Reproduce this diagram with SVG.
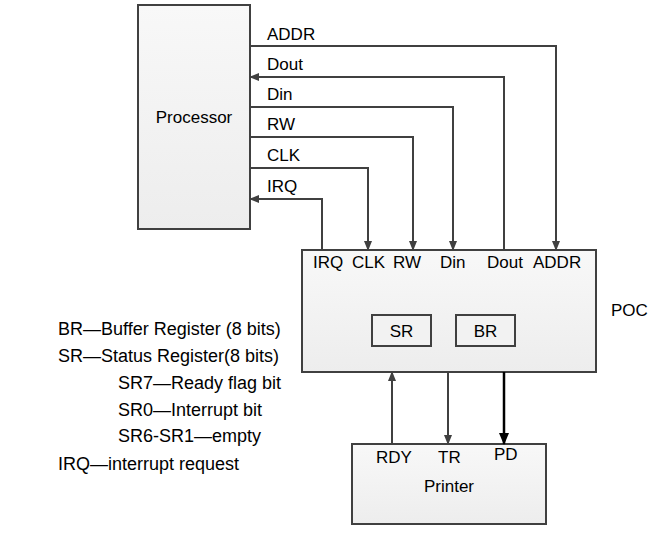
<svg xmlns="http://www.w3.org/2000/svg" width="654" height="534" viewBox="0 0 654 534">
<defs>
<linearGradient id="g" x1="0" y1="0" x2="0" y2="1">
<stop offset="0" stop-color="#f8f8f8"/>
<stop offset="1" stop-color="#ededed"/>
</linearGradient>
<marker id="a" markerWidth="10" markerHeight="8" refX="9" refY="4" orient="auto" markerUnits="userSpaceOnUse">
<path d="M0,0 L10,4 L0,8 Z" fill="#404040"/>
</marker>
<marker id="ab" markerWidth="12" markerHeight="10" refX="11" refY="5" orient="auto" markerUnits="userSpaceOnUse">
<path d="M0,0 L12,5 L0,10 Z" fill="#000"/>
</marker>
</defs>
<style>
text{font-family:"Liberation Sans",Arial,sans-serif;font-size:17px;fill:#000}
.lg{font-size:18px}
.box{fill:url(#g);stroke:#404040;stroke-width:2}
.sub{fill:#f2f2f2;stroke:#404040;stroke-width:2}
.w{fill:none;stroke:#404040;stroke-width:2}
.wb{fill:none;stroke:#000;stroke-width:2.5}
</style>
<rect width="654" height="534" fill="#fff"/>
<g id="processor">
<rect class="box" x="138" y="5" width="112" height="224"/>
<text x="194" y="123" text-anchor="middle">Processor</text>
</g>
<g id="poc">
<rect class="box" x="302" y="250" width="294" height="122"/>
<text x="313" y="268">IRQ</text>
<text x="352" y="268">CLK</text>
<text x="393" y="268">RW</text>
<text x="440" y="268">Din</text>
<text x="487" y="268">Dout</text>
<text x="533" y="268">ADDR</text>
<text x="611" y="316">POC</text>
</g>
<g id="sr">
<rect class="sub" x="372" y="315" width="59" height="31"/>
<text x="401.5" y="337" text-anchor="middle">SR</text>
</g>
<g id="br">
<rect class="sub" x="456" y="315" width="59" height="31"/>
<text x="485.5" y="337" text-anchor="middle">BR</text>
</g>
<g id="printer">
<rect class="box" x="352" y="444" width="194" height="80"/>
<text x="376" y="463">RDY</text>
<text x="438" y="463">TR</text>
<text x="494" y="460">PD</text>
<text x="449" y="492" text-anchor="middle">Printer</text>
</g>
<g id="connectors">
<polyline class="w" points="250,46 556,46 556,250" marker-end="url(#a)"/>
<polyline class="w" points="504,250 504,77 250,77" marker-end="url(#a)"/>
<polyline class="w" points="250,107 453,107 453,250" marker-end="url(#a)"/>
<polyline class="w" points="250,137 413,137 413,250" marker-end="url(#a)"/>
<polyline class="w" points="250,168 368,168 368,250" marker-end="url(#a)"/>
<polyline class="w" points="322,250 322,199 250,199" marker-end="url(#a)"/>
<line class="w" x1="392" y1="444" x2="392" y2="372" marker-end="url(#a)"/>
<line class="w" x1="448" y1="372" x2="448" y2="444" marker-end="url(#a)"/>
<line class="wb" x1="504" y1="372" x2="504" y2="444" marker-end="url(#ab)"/>
<text x="267" y="40">ADDR</text>
<text x="267" y="70">Dout</text>
<text x="267" y="100">Din</text>
<text x="267" y="130">RW</text>
<text x="267" y="161">CLK</text>
<text x="267" y="192">IRQ</text>
</g>
<g id="legend">
<text class="lg" x="58" y="335">BR—Buffer Register (8 bits)</text>
<text class="lg" x="58" y="362">SR—Status Register(8 bits)</text>
<text class="lg" x="118" y="389">SR7—Ready flag bit</text>
<text class="lg" x="118" y="416">SR0—Interrupt bit</text>
<text class="lg" x="118" y="442">SR6-SR1—empty</text>
<text class="lg" x="58" y="470">IRQ—interrupt request</text>
</g>
</svg>
